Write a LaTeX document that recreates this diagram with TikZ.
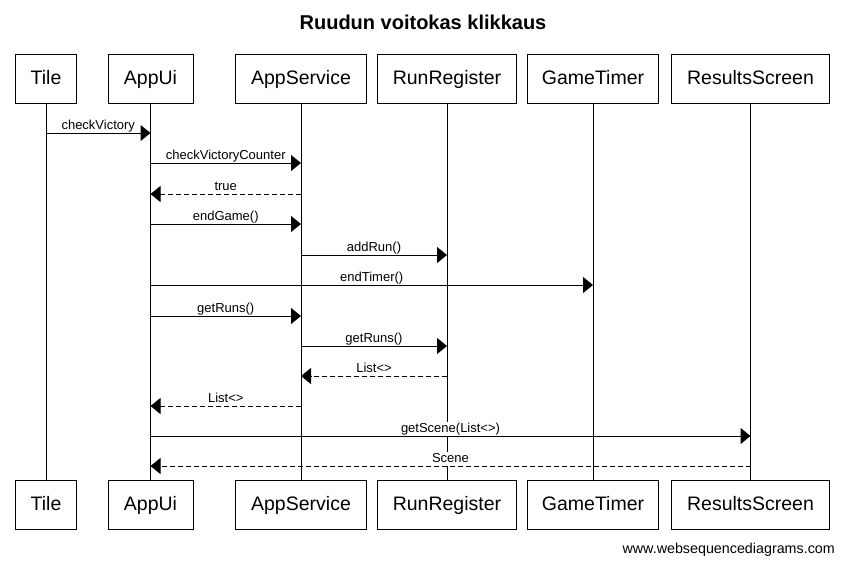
\documentclass[tikz,border=0pt]{standalone}
\usepackage{fontspec}
\setmainfont{Liberation Sans}
\usetikzlibrary{arrows.meta,calc}
\newcommand\seqmsg[5]{%
  \node[lbl,anchor=south] at ($(#1 |- 0,#3)!0.5!(#2 |- 0,#3)$) {#4};
  \draw[#5] (#1 |- 0,#3) -- (#2 |- 0,#3);}
\begin{document}
\begin{tikzpicture}[x=1pt,y=-1pt,
  actor/.style={draw,line width=1pt,minimum height=49pt,inner sep=0pt,fill=white,
    text height=14pt,text depth=3pt,font=\fontsize{19.5}{22}\selectfont},
  life/.style={line width=1pt},
  msg/.style={line width=1pt,-{Triangle[length=10pt,width=16pt]}},
  ret/.style={msg,dash pattern=on 5pt off 3pt},
  lbl/.style={fill=white,inner sep=1pt,text height=9.5pt,text depth=2.8pt,
    font=\fontsize{13}{15}\selectfont}]
\useasboundingbox (0,0) rectangle (843,563);
\node[anchor=base,font=\bfseries\fontsize{20}{24}\selectfont] (title) at (423,29) {Ruudun voitokas klikkaus};
\node[actor,minimum width=61pt] (tileT) at (46,78.5) {Tile};
\node[actor,minimum width=61pt] (tileB) at (46,505) {Tile};
\node[actor,minimum width=85pt] (appT) at (150.5,78.5) {AppUi};
\node[actor,minimum width=85pt] (appB) at (150.5,505) {AppUi};
\node[actor,minimum width=131pt] (svcT) at (301,78.5) {AppService};
\node[actor,minimum width=131pt] (svcB) at (301,505) {AppService};
\node[actor,minimum width=139pt] (regT) at (447,78.5) {RunRegister};
\node[actor,minimum width=139pt] (regB) at (447,505) {RunRegister};
\node[actor,minimum width=131pt] (timT) at (593,78.5) {GameTimer};
\node[actor,minimum width=131pt] (timB) at (593,505) {GameTimer};
\node[actor,minimum width=158pt] (resT) at (750.5,78.5) {ResultsScreen};
\node[actor,minimum width=158pt] (resB) at (750.5,505) {ResultsScreen};
\foreach \a/\b in {tileT/tileB,appT/appB,svcT/svcB,regT/regB,timT/timB,resT/resB}
  \draw[life] (\a.south) -- (\b.north);
% messages
\seqmsg{tileT}{appT}{133}{checkVictory}{msg}
\seqmsg{appT}{svcT}{163}{checkVictoryCounter}{msg}
\seqmsg{svcT}{appT}{194}{true}{ret}
\seqmsg{appT}{svcT}{224}{endGame()}{msg}
\seqmsg{svcT}{regT}{255}{addRun()}{msg}
\seqmsg{appT}{timT}{285}{endTimer()}{msg}
\seqmsg{appT}{svcT}{316}{getRuns()}{msg}
\seqmsg{svcT}{regT}{346}{getRuns()}{msg}
\seqmsg{regT}{svcT}{376}{List<>}{ret}
\seqmsg{svcT}{appT}{406}{List<>}{ret}
\seqmsg{appT}{resT}{436}{getScene(List<>)}{msg}
\seqmsg{resT}{appT}{466}{Scene}{ret}
\node[anchor=base east,inner sep=0pt,font=\fontsize{14.3}{17}\selectfont] (footer) at (835,553) {www.websequencediagrams.com};
\end{tikzpicture}
\end{document}
